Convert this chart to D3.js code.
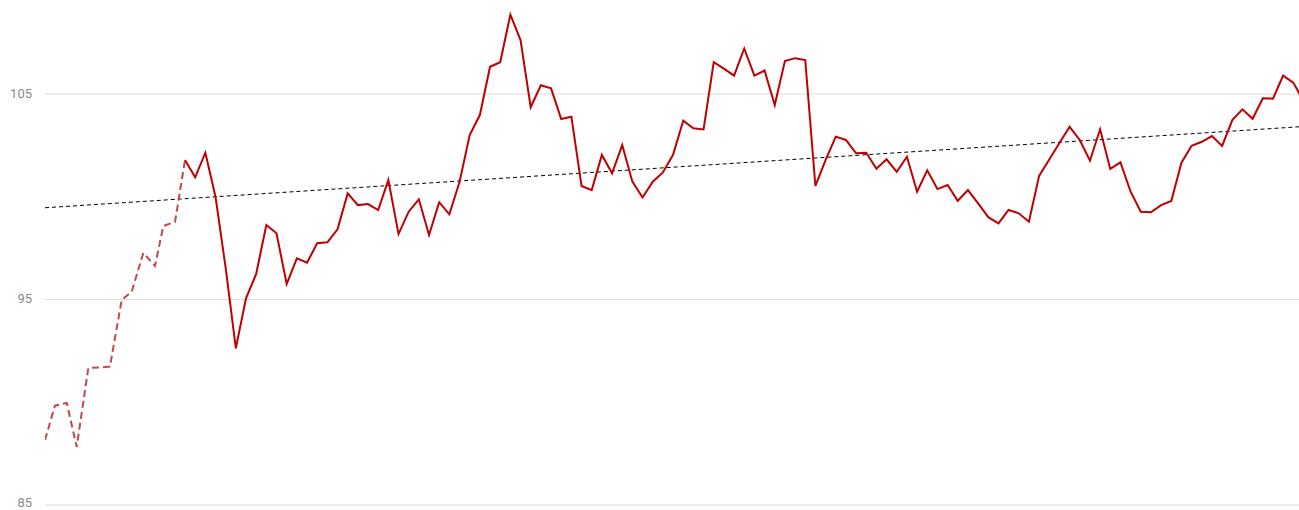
<!DOCTYPE html>
<html>
<head>
<meta charset="utf-8">
<script src="https://cdn.jsdelivr.net/npm/d3@7"></script>
<style>
  html, body { margin: 0; padding: 0; background: #fff; }
  svg { display: block; }
</style>
</head>
<body>
<svg id="chart" width="1299" height="510"></svg>
<script>
// ---- data ----
const yTicks = [85, 95, 105];

// earlier (dashed) segment: positions in period units relative to start of solid series
const dashedPos = [-13.77, -12.79, -11.63, -10.65, -9.51, -8.45, -7.38, -6.23, -5.24, -4.10, -2.95, -2.13, -0.98, 0];
const dashedValues = [88.14, 89.81, 89.94, 87.81, 91.64, 91.67, 91.71, 94.95, 95.36, 97.24, 96.61, 98.55, 98.76, 101.76];

// main (solid) series, one value per period starting at 0
const solidValues = [
  101.76, 100.92, 102.12, 99.98, 96.51, 92.60, 95.03, 96.22, 98.60, 98.20,
  95.73, 96.98, 96.77, 97.71, 97.76, 98.39, 100.14, 99.57, 99.62, 99.33,
  100.79, 98.16, 99.25, 99.85, 98.11, 99.71, 99.12, 100.69, 102.98, 103.95,
  106.30, 106.52, 108.84, 107.60, 104.33, 105.40, 105.25, 103.76, 103.87, 100.50,
  100.30, 102.01, 101.12, 102.49, 100.71, 99.94, 100.71, 101.16, 102.02, 103.68,
  103.31, 103.25, 106.52, 106.21, 105.87, 107.19, 105.87, 106.12, 104.44, 106.58,
  106.72, 106.63, 100.50, 101.76, 102.90, 102.74, 102.09, 102.12, 101.34, 101.80,
  101.19, 101.92, 100.22, 101.26, 100.35, 100.55, 99.78, 100.30, 99.65, 98.98,
  98.68, 99.33, 99.17, 98.76, 100.99, 101.79, 102.59, 103.38, 102.74, 101.73,
  103.26, 101.33, 101.65, 100.22, 99.25, 99.22, 99.57, 99.77, 101.63, 102.46,
  102.65, 102.93, 102.45, 103.71, 104.23, 103.77, 104.77, 104.75, 105.87, 105.53,
  104.64
];

// linear trend line endpoints (value at left edge, value at right edge)
const trendValues = [99.44, 103.38];

// ---- layout ----
const W = 1299, H = 510;
const left = 45, right = 1299;
const svg = d3.select("#chart");

const x = d3.scaleLinear().domain([0, 109]).range([185, 1293.3]);
const y = d3.scaleLinear().domain([85, 105]).range([504.5, 93.5]);

const xDomainLeft = x.invert(left), xDomainRight = x.invert(right);

svg.append("defs").append("clipPath").attr("id", "plot")
  .append("rect").attr("x", left).attr("y", 0).attr("width", right - left).attr("height", H);

// gridlines + labels via axis
const yAxis = d3.axisLeft(y).tickValues(yTicks).tickSize(-(right - left)).tickPadding(13).tickFormat(d3.format("d"));
const gAxis = svg.append("g").attr("transform", `translate(${left},0)`).call(yAxis);
gAxis.select(".domain").remove();
gAxis.selectAll(".tick line").attr("stroke", "#dcdcdc").attr("stroke-width", 1);
gAxis.selectAll(".tick text")
  .attr("fill", "#8a8a8a")
  .attr("dy", "0.3em")
  .style("font-family", "Roboto, 'Noto Sans', sans-serif")
  .style("font-size", "13px");
// keep the lowest label inside the picture
gAxis.selectAll(".tick text").filter(d => d === yTicks[0]).attr("dy", "0.15em");

const plot = svg.append("g").attr("clip-path", "url(#plot)");

// trend line
const line = d3.line().x(d => x(d[0])).y(d => y(d[1]));
plot.append("path")
  .datum([[xDomainLeft, trendValues[0]], [xDomainRight, trendValues[1]]])
  .attr("d", line)
  .attr("fill", "none")
  .attr("stroke", "#000")
  .attr("stroke-width", 1)
  .attr("stroke-dasharray", "4,3");

// dashed earlier segment
plot.append("path")
  .datum(dashedPos.map((p, i) => [p, dashedValues[i]]))
  .attr("d", line)
  .attr("fill", "none")
  .attr("stroke", "#c4484a")
  .attr("stroke-width", 2)
  .attr("stroke-dasharray", "7,4");

// solid main series
plot.append("path")
  .datum(solidValues.map((v, i) => [i, v]))
  .attr("d", line)
  .attr("fill", "none")
  .attr("stroke", "#c00000")
  .attr("stroke-width", 2)
  .attr("stroke-linejoin", "miter");
</script>
</body>
</html>
